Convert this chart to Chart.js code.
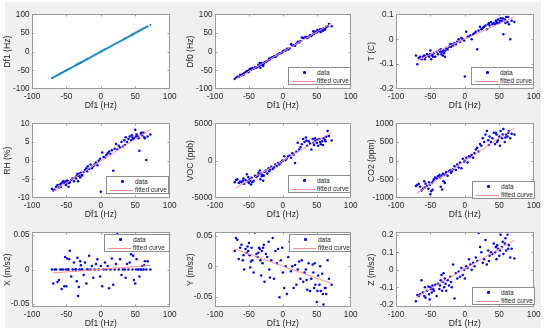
<!DOCTYPE html>
<html>
<head>
<meta charset="utf-8">
<script src="https://cdn.jsdelivr.net/npm/chart.js"></script>
<style>
html,body{margin:0;padding:0;background:#fff;}
body{width:550px;height:335px;position:relative;overflow:hidden;font-family:"Liberation Sans",Arial,sans-serif;}
#bg{position:absolute;left:5px;top:2px;width:536px;height:326px;background:#f0f0f0;}
canvas{position:absolute;}
.leg{position:absolute;background:#fff;border:1px solid #8c8c8c;box-sizing:border-box;font-size:6.5px;color:#262626;height:18px;width:63px;}
.leg .r{position:absolute;left:0;right:0;height:8px;line-height:8px;}
.leg .r1{top:0.7px;}
.leg .r2{top:9.3px;}
.leg .t{position:absolute;left:28px;top:0;}
.leg .dot{position:absolute;left:14px;top:2.8px;width:2.6px;height:2.6px;border-radius:50%;background:#0000ff;}
.leg .ln{position:absolute;left:3px;width:23px;top:3.6px;height:1px;background:#ff8c8c;}
</style>
</head>
<body>
<div id="bg"></div>
<script>
// ---------------- data ----------------
const df1 = [-71,-69,-67,-65,-63,-61,-59,-57,-55,-53,
 -52,-50,-49,-47,-45,-43,-41,-39,-37,-35,
 -34,-33,-32,-31,-30,-29,-27,-25,-23,-21,
 -19,-17,-15,-13,-11,-9,-7,-5,-3,-1,
 0,2,4,6,8,10,12,14,16,18,
 20,22,24,26,28,30,32,34,36,38,
 40,42,44,46,48,50,52,54,56,58,
 60,62,64,66,68,72,
 -58,-51,-48,-46,-36,-28,-20,35,45,47,51,55,59,63];

const df0 = [-73,-70,-67,-68,-62,-63,-60,-58,-55,-52,
 -54,-50,-48,-49,-44,-46,-42,-43,-40,-38,
 -30,-43,-35,-30,-33,-38,-28,-27,-25,-22,
 -20,-16,-15,-12,-14,-10,-7,-4,-4,-2,
 1,3,3,8,6,9,20,16,18,16,
 22,27,25,29,38,37,38,40,37,40,
 44,42,46,48,54,52,56,55,53,60,
 62,59,66,68,74,68,
 -62,-55,-46,-47,-35,-32,-18,38,55,51,58,60,56,64];

const tempC = [-0.065,-0.10,-0.075,-0.07,-0.08,-0.07,-0.065,-0.07,-0.06,-0.065,
 -0.07,-0.045,-0.08,-0.06,-0.055,-0.07,-0.05,-0.06,-0.045,-0.04,
 -0.06,-0.05,-0.065,-0.045,-0.055,-0.07,-0.035,-0.04,-0.03,-0.02,
 -0.02,-0.025,-0.015,-0.02,-0.01,0.0,-0.01,0.005,0.0,-0.005,
 -0.15,0.03,0.01,0.01,0.015,0.0,0.02,0.025,0.03,-0.04,
 0.035,0.05,0.04,0.045,0.05,0.055,0.04,0.06,0.055,0.07,
 0.06,0.065,0.06,0.07,0.08,0.065,0.085,0.075,0.02,0.08,
 0.09,0.07,0.06,0.0,0.075,0.07,
 -0.08,-0.06,-0.065,-0.07,-0.05,-0.045,-0.03,0.065,0.075,0.065,0.075,0.085,0.065,0.09];

const rh = [-7.5,-8.0,-7.8,-7.0,-6.5,-7.2,-6.3,-6.0,-5.5,-6.0,
 -5.6,-6.2,-5.3,-7.0,-5.8,-5.2,-4.8,-5.5,-4.5,-4.0,
 -3.5,-5.5,-4.0,-3.5,-4.5,-3.2,-3.8,-3.0,-2.5,-2.0,
 -1.5,-2.2,-1.0,-2.0,-1.5,-1.0,-0.5,-1.2,0.0,0.5,
 -8.3,2.2,1.0,0.8,1.5,2.0,2.5,1.8,2.8,-2.7,
 3.2,4.5,3.0,4.0,3.5,5.0,3.8,5.5,6.3,5.0,
 5.8,6.5,5.5,6.2,6.0,8.3,7.0,6.5,2.7,7.3,
 6.8,7.5,6.0,0.2,6.5,7.0,
 -7.0,-6.5,-5.5,-6.0,-4.8,-4.0,-2.8,4.2,6.8,5.8,6.5,6.0,7.5,6.3];

const voc = [-2900,-2600,-2500,-3000,-2800,-2900,-2700,-3100,-2600,-1800,
 -2800,-3000,-2500,-3200,-2900,-2700,-2000,-2200,-2000,-1800,
 -1300,-2500,-1700,-2100,-1900,-2700,-1500,-1300,-1700,-1000,
 -1200,-800,-1100,-900,-500,-700,-300,-500,-200,0,
 0,600,100,300,600,700,400,1000,800,-300,
 1200,2400,1500,1800,2200,2900,2500,3100,2000,2600,
 2300,1500,2900,2100,2700,2400,2000,2900,2200,2600,
 3000,2800,3200,4000,3300,2700,
 -2400,-2200,-2700,-2300,-1600,-2000,-1400,2700,2400,3000,2800,2500,2100,2600];

const co2 = [-680,-650,-620,-700,-800,-750,-550,-620,-680,-750,
 -580,-900,-820,-780,-500,-450,-480,-420,-380,-700,
 -400,-770,-350,-550,-380,-600,-300,-400,-280,-250,
 -280,-230,-150,-250,-100,-180,-50,-200,50,-30,
 0,80,-50,120,100,150,80,200,300,350,
 250,450,400,600,500,700,800,550,650,500,
 600,750,450,700,550,650,800,600,850,500,
 700,650,800,600,720,700,
 -720,-650,-600,-550,-450,-350,-320,420,750,500,400,700,620,750];

const accX = [0,-0.020,0,0,-0.018,-0.015,0,-0.028,0,-0.024,
 0.018,-0.024,0.016,0,0.027,-0.010,0,0.010,0,-0.017,
 0.017,-0.038,-0.025,0,0.012,0.006,0,-0.008,0.010,-0.020,
 0,0.020,0,0.005,-0.012,0,0.008,0.015,0,-0.010,
 0.005,-0.024,0,0.010,0,0.005,-0.027,0,0.016,-0.022,
 0,0.008,0.053,0,0.015,-0.008,0,0.040,-0.012,0.008,
 0,0.010,0.022,0,-0.015,-0.020,0.015,0,-0.010,0,
 0.005,0,0.012,0,0.012,0,
 0,0,0,0.015,0,0,0,0,0.040,0.020,0,0,0,0.006];

const accY = [0.025,0.046,0.043,0.012,0.030,0.035,0.010,-0.005,0.028,0.022,
 0.032,0.038,0.018,0.008,0.010,-0.010,0.055,0.020,0.015,0.030,
 0.028,0.010,-0.015,0.025,0.005,0.030,-0.025,0.020,0.015,0.040,
 -0.018,0.010,0.046,-0.020,0.025,0.005,0.028,-0.050,0.010,0.030,
 -0.010,-0.035,0.000,-0.045,0.015,0.040,-0.008,0.000,-0.035,0.002,
 -0.030,-0.005,0.008,-0.020,0.010,-0.025,-0.010,-0.005,-0.038,0.005,
 -0.040,-0.020,0.003,-0.035,-0.030,-0.058,-0.015,-0.030,-0.040,-0.012,
 -0.062,-0.035,-0.045,0.010,-0.020,-0.030,
 0.018,0.025,-0.002,0.030,0.022,0.035,-0.005,-0.022,-0.010,0.005,-0.040,0.000,-0.045,-0.035];

const accZ = [-0.180,-0.145,-0.150,-0.140,-0.060,-0.130,-0.150,-0.160,-0.120,-0.095,
 -0.140,-0.100,-0.110,-0.090,-0.120,-0.085,-0.150,-0.080,-0.110,-0.060,
 -0.030,-0.120,-0.070,-0.020,-0.100,-0.050,-0.120,-0.060,-0.090,-0.040,
 -0.100,0.030,-0.165,-0.020,-0.050,-0.010,-0.040,0.010,-0.030,0.000,
 -0.050,0.020,0.010,0.060,0.030,0.000,0.040,0.020,0.070,0.050,
 0.210,0.130,0.100,0.040,0.060,0.170,0.030,0.110,0.080,0.100,
 0.090,0.150,0.100,0.060,0.120,0.080,0.200,0.130,0.090,0.150,
 0.110,0.200,0.140,0.070,0.120,0.065,
 -0.100,-0.170,-0.130,-0.110,-0.090,-0.080,-0.070,0.050,0.130,0.140,0.110,0.160,0.180,0.120];

// fitted curves (endpoints)
const fitX = [-70, 72];
const fitDf0 = [-74, 76];
const fitT = [-0.086, 0.09];
const fitRH = [-8.3, 8.4];
const fitVOC = [-3700, 3800];
const fitCO2 = [-880, 880];
const fitAccX = [-0.005, 0.006];
const fitAccY = [0.028, -0.028];
const fitAccZ = [-0.155, 0.17];

// tick labels
const xTicks = [-100, -50, 0, 50, 100];
const xTickLabels = ['-100', '-50', '0', '50', '100'];
const hzTicks = [-100, -50, 0, 50, 100];
const hzLabels = ['-100', '-50', '0', '50', '100'];
const tTicks = [-0.2, -0.1, 0, 0.1];
const tLabels = ['-0.2', '-0.1', '0', '0.1'];
const rhTicks = [-10, -5, 0, 5, 10];
const rhLabels = ['-10', '-5', '0', '5', '10'];
const vocTicks = [-5000, 0, 5000];
const vocLabels = ['-5000', '0', '5000'];
const co2Ticks = [-1000, -500, 0, 500, 1000];
const co2Labels = ['-1000', '-500', '0', '500', '1000'];
const acc5Ticks = [-0.05, 0, 0.05];
const acc5Labels = ['-0.05', '0', '0.05'];
const zTicks = [-0.2, -0.1, 0, 0.1, 0.2];
const zLabels = ['-0.2', '-0.1', '0', '0.1', '0.2'];

const legendNames = ['data', 'fitted curve'];

// ---------------- layout ----------------
const FONT = '"Liberation Sans", Arial, sans-serif';
const TXT = '#262626';
const colL = [32, 215, 396], colW = [139, 137, 139];
const rowT = [13, 122, 231], PH = 76;

const panels = [
 {r:0,c:0,title:'Df1 (Hz)', ys:df1, fit:null, min:-100, max:100, ticks:hzTicks, labels:hzLabels, color:'#1787cc', rad:1.1, leg:null},
 {r:0,c:1,title:'Df0 (Hz)', ys:df0, fit:fitDf0, min:-100, max:100, ticks:hzTicks, labels:hzLabels, color:'#0000ff', rad:1.25, leg:[288,67,63]},
 {r:0,c:2,title:'T (C)', ys:tempC, fit:fitT, min:-0.2, max:0.1, ticks:tTicks, labels:tLabels, color:'#0000ff', rad:1.25, leg:[471,67,63]},
 {r:1,c:0,title:'RH (%)', ys:rh, fit:fitRH, min:-10, max:10, ticks:rhTicks, labels:rhLabels, color:'#0000ff', rad:1.25, leg:[106,176,63]},
 {r:1,c:1,title:'VOC (ppb)', ys:voc, fit:fitVOC, min:-5000, max:5000, ticks:vocTicks, labels:vocLabels, color:'#0000ff', rad:1.25, leg:[288,175,63]},
 {r:1,c:2,title:'CO2 (ppm)', ys:co2, fit:fitCO2, min:-1000, max:1000, ticks:co2Ticks, labels:co2Labels, color:'#0000ff', rad:1.25, leg:[472,181,63]},
 {r:2,c:0,title:'X (m/s2)', ys:accX, fit:fitAccX, min:-0.054, max:0.0535, ticks:acc5Ticks, labels:acc5Labels, color:'#0000ff', rad:1.25, leg:[104,234,66]},
 {r:2,c:1,title:'Y (m/s2)', ys:accY, fit:fitAccY, min:-0.066, max:0.055, ticks:acc5Ticks, labels:acc5Labels, color:'#0000ff', rad:1.25, leg:[289,234,62]},
 {r:2,c:2,title:'Z (m/s2)', ys:accZ, fit:fitAccZ, min:-0.213, max:0.214, ticks:zTicks, labels:zLabels, color:'#0000ff', rad:1.25, leg:[472,287,63]}
];

const boxPlugin = {
  id: 'box',
  beforeDatasetsDraw(c) {
    const a = c.chartArea, ctx = c.ctx;
    ctx.save();
    ctx.fillStyle = '#ffffff';
    ctx.fillRect(a.left, a.top, a.right - a.left, a.bottom - a.top);
    ctx.restore();
  },
  afterDraw(c) {
    const a = c.chartArea, ctx = c.ctx;
    const L = Math.round(a.left) + 0.5, R = Math.round(a.right) - 0.5;
    const T = Math.round(a.top) + 0.5, B = Math.round(a.bottom) - 0.5;
    ctx.save();
    ctx.strokeStyle = '#9a9a9a';
    ctx.lineWidth = 1;
    ctx.beginPath();
    c.scales.x.ticks.forEach(t => {
      const p = Math.round(c.scales.x.getPixelForValue(t.value)) + 0.5;
      if (p > L + 1 && p < R - 1) {
        ctx.moveTo(p, B); ctx.lineTo(p, B - 2);
        ctx.moveTo(p, T); ctx.lineTo(p, T + 2);
      }
    });
    c.scales.y.ticks.forEach(t => {
      const p = Math.round(c.scales.y.getPixelForValue(t.value)) + 0.5;
      if (p > T + 1 && p < B - 1) {
        ctx.moveTo(L, p); ctx.lineTo(L + 2, p);
        ctx.moveTo(R, p); ctx.lineTo(R - 2, p);
      }
    });
    ctx.stroke();
    ctx.strokeRect(L, T, R - L, B - T);
    ctx.restore();
  }
};

const PADT = 6, PADR = 8, YW = 32, XH = 23;

panels.forEach(p => {
  const pl = colL[p.c], pt = rowT[p.r], pw = colW[p.c];
  const cv = document.createElement('canvas');
  const W = YW + pw + PADR, H = PADT + PH + XH;
  cv.width = W; cv.height = H;
  cv.style.left = (pl - YW) + 'px';
  cv.style.top = (pt - PADT) + 'px';
  cv.style.width = W + 'px'; cv.style.height = H + 'px';
  document.body.appendChild(cv);

  const datasets = [{
    label: legendNames[0],
    data: p.ys.map((y, i) => ({x: df1[i], y: y})),
    pointRadius: p.rad,
    pointBackgroundColor: p.color,
    pointBorderWidth: 0,
    pointBorderColor: p.color,
    showLine: false,
    order: 1
  }];
  if (p.fit) {
    datasets.push({
      label: legendNames[1],
      data: fitX.map((x, i) => ({x: x, y: p.fit[i]})),
      showLine: true,
      borderColor: '#ff8c8c',
      borderWidth: 1,
      pointRadius: 0,
      fill: false,
      order: 0
    });
  }

  new Chart(cv, {
    type: 'scatter',
    data: {datasets},
    plugins: [boxPlugin],
    options: {
      responsive: false,
      animation: false,
      devicePixelRatio: 1,
      layout: {padding: {top: PADT, right: PADR, left: 0, bottom: 0}},
      plugins: {legend: {display: false}, tooltip: {enabled: false}},
      scales: {
        x: {
          type: 'linear', min: -100, max: 100,
          grid: {display: false, drawTicks: false},
          border: {display: false},
          afterBuildTicks: s => { s.ticks = xTicks.map(v => ({value: v})); },
          afterFit: s => { s.height = XH; },
          ticks: {callback: (v, i) => xTickLabels[i], font: {size: 8.2, family: FONT}, color: TXT, padding: 2.5, maxRotation: 0, autoSkip: false},
          title: {display: true, text: 'Df1 (Hz)', font: {size: 8.6, family: FONT}, color: TXT, padding: {top: 0, bottom: 1}}
        },
        y: {
          type: 'linear', min: p.min, max: p.max,
          grid: {display: false, drawTicks: false},
          border: {display: false},
          afterBuildTicks: s => { s.ticks = p.ticks.map(v => ({value: v})); },
          afterFit: s => { s.width = YW; },
          ticks: {callback: (v, i) => p.labels[i], font: {size: 8.2, family: FONT}, color: TXT, padding: 2.5, autoSkip: false},
          title: {display: true, text: p.title, font: {size: 8.6, family: FONT}, color: TXT, padding: {top: 2.5, bottom: 0}}
        }
      }
    }
  });

  if (p.leg) {
    const d = document.createElement('div');
    d.className = 'leg';
    d.style.left = p.leg[0] + 'px';
    d.style.top = p.leg[1] + 'px';
    d.style.width = p.leg[2] + 'px';
    d.innerHTML = '<div class="r r1"><i class="dot"></i><span class="t">' + legendNames[0] + '</span></div>' +
                  '<div class="r r2"><i class="ln"></i><span class="t">' + legendNames[1] + '</span></div>';
    document.body.appendChild(d);
  }
});
</script>
</body>
</html>
